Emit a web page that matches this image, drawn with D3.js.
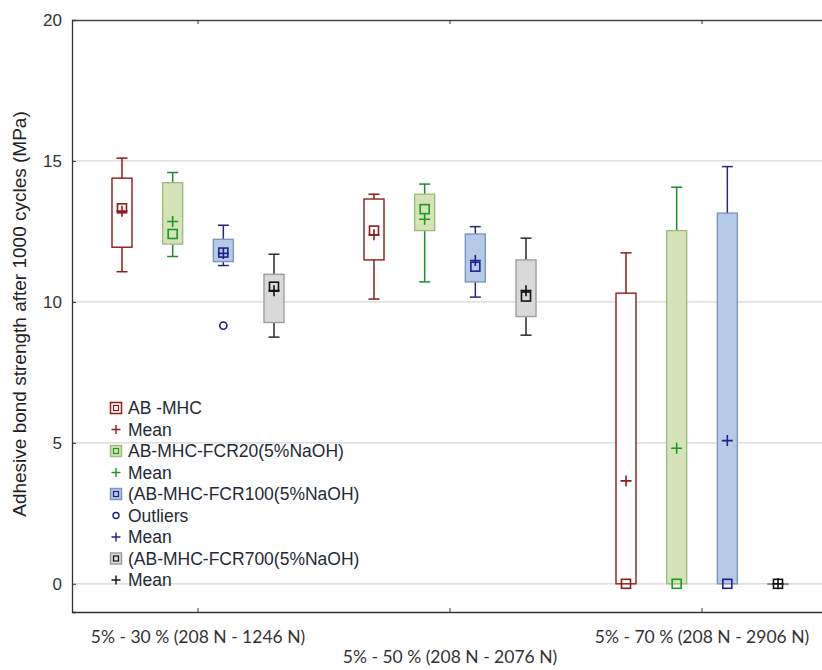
<!DOCTYPE html>
<html>
<head>
<meta charset="utf-8">
<script src="https://cdn.jsdelivr.net/npm/d3@7"></script>
<style>
  body { margin: 0; background: #fff; }
  svg { display: block; }
  .tick text { fill: #333; }
</style>
</head>
<body>
<div id="graph"></div>
<script>
// categories on the x axis
const categories = ["5% - 30 % (208 N - 1246 N)", "5% - 50 % (208 N - 2076 N)", "5% - 70 % (208 N - 2906 N)"];
const seriesNames = ["AB -MHC", "AB-MHC-FCR20(5%NaOH)", "(AB-MHC-FCR100(5%NaOH)", "(AB-MHC-FCR700(5%NaOH)"];

// box plot values, one row per series, one value per category
const whiskerLow = [[11.07, 10.10, 0], [11.61, 10.71, 0], [11.29, 10.17, 0], [8.75, 8.82, 0]];
const q1Vals     = [[11.94, 11.49, 0], [12.05, 12.53, 0], [11.43, 10.71, 0], [9.27, 9.48, 0]];
const medianVals = [[13.32, 12.53, 0], [12.41, 13.29, 0], [11.75, 11.25, 0], [10.54, 10.19, 0]];
const q3Vals     = [[14.39, 13.65, 10.31], [14.23, 13.82, 12.53], [12.22, 12.41, 13.15], [10.98, 11.49, 0]];
const whiskerHigh= [[15.10, 13.82, 11.74], [14.59, 14.18, 14.07], [12.72, 12.67, 14.80], [11.69, 12.26, 0]];
const meanVals   = [[13.22, 12.38, 3.65], [12.85, 12.93, 4.81], [11.72, 11.47, 5.08], [10.40, 10.40, 0]];
const outlierVals = [{series: 2, cat: 0, value: 9.16}];

const yTicks = [0, 5, 10, 15, 20];

// colours per series
const boxFill   = ["#ffffff", "#d5e4b8", "#b4cbe7", "#d9d9d9"];
const boxStroke = ["#8e1b1b", "#9fbd7f", "#7c96bd", "#9e9e9e"];
const lineColor = ["#8e1b1b", "#1f8a2a", "#26287a", "#2b2b2b"];
const markColor = ["#8e1b1b", "#1a9a22", "#20208c", "#111111"];

const W = 822, H = 670;
const svg = d3.select("#graph").append("svg")
  .attr("width", W).attr("height", H);

const mLeft = 72, mTop = 20, mBottom = 612, mRight = 828;

const y = d3.scaleLinear().domain([-1, 20]).range([mBottom, mTop]);
const x = d3.scaleBand().domain(categories).range([mLeft, mRight]);
const xs = d3.scalePoint().domain(seriesNames).range([-76, 76]);
const boxW = 20, capW = 11;

// grid lines
svg.append("g").selectAll("line")
  .data(yTicks.filter(d => d < 20))
  .enter().append("line")
    .attr("x1", mLeft).attr("x2", W)
    .attr("y1", d => y(d)).attr("y2", d => y(d))
    .attr("stroke", "#d6d6d6").attr("stroke-width", 1.2);

// y axis
const yAxis = svg.append("g")
  .attr("transform", `translate(${mLeft},0)`)
  .call(d3.axisLeft(y).tickValues(yTicks).tickSize(-4).tickPadding(10));
yAxis.selectAll("text").style("font-family", "'Liberation Sans', Arial, sans-serif").style("font-size", "17px");
yAxis.select(".domain").attr("stroke", "#333").attr("stroke-width", 1.3);
yAxis.selectAll(".tick line").attr("stroke", "#333");

// bottom axis
const xAxis = svg.append("g")
  .attr("transform", `translate(0,${mBottom})`)
  .call(d3.axisBottom(x).tickSize(-4).tickSizeOuter(0).tickPadding(20));
xAxis.select(".domain").attr("stroke", "#333").attr("stroke-width", 1.3);
xAxis.selectAll(".tick line").attr("stroke", "#333");
xAxis.selectAll("text")
  .style("font-family", "Lato, 'Open Sans', sans-serif")
  .style("font-size", "17.5px")
  .attr("dy", (d, i) => i === 1 ? "1.75em" : "0.6em");

// top frame
const topAxis = svg.append("g")
  .attr("transform", `translate(0,${mTop})`)
  .call(d3.axisTop(x).tickSize(-4).tickSizeOuter(0).tickFormat(""));
topAxis.select(".domain").attr("stroke", "#444").attr("stroke-width", 1.6);
topAxis.selectAll(".tick line").attr("stroke", "#333");

// y axis title
svg.append("text")
  .attr("transform", `translate(26,314) rotate(-90)`)
  .attr("text-anchor", "middle")
  .style("font-family", "'Liberation Sans', Arial, sans-serif")
  .style("font-size", "19px")
  .attr("fill", "#222")
  .text("Adhesive bond strength after 1000 cycles (MPa)");

// flatten into one record per box
const boxes = [];
seriesNames.forEach((s, si) => {
  categories.forEach((c, ci) => {
    boxes.push({
      si, ci, cx: x(c) + x.bandwidth() / 2 + xs(s),
      lo: whiskerLow[si][ci], q1: q1Vals[si][ci], med: medianVals[si][ci],
      q3: q3Vals[si][ci], hi: whiskerHigh[si][ci], mean: meanVals[si][ci]
    });
  });
});

const g = svg.append("g").selectAll("g").data(boxes).enter().append("g");

// whiskers
g.append("line")
  .attr("x1", d => d.cx).attr("x2", d => d.cx)
  .attr("y1", d => y(d.q3)).attr("y2", d => y(d.hi))
  .attr("stroke", d => lineColor[d.si]).attr("stroke-width", 1.5);
g.append("line")
  .attr("x1", d => d.cx).attr("x2", d => d.cx)
  .attr("y1", d => y(d.q1)).attr("y2", d => y(d.lo))
  .attr("stroke", d => lineColor[d.si]).attr("stroke-width", 1.5);
g.filter(d => d.hi > d.q3).append("line")
  .attr("x1", d => d.cx - capW / 2).attr("x2", d => d.cx + capW / 2)
  .attr("y1", d => y(d.hi)).attr("y2", d => y(d.hi))
  .attr("stroke", d => lineColor[d.si]).attr("stroke-width", 1.5);
g.filter(d => d.lo < d.q1).append("line")
  .attr("x1", d => d.cx - capW / 2).attr("x2", d => d.cx + capW / 2)
  .attr("y1", d => y(d.lo)).attr("y2", d => y(d.lo))
  .attr("stroke", d => lineColor[d.si]).attr("stroke-width", 1.5);

// boxes
g.append("rect")
  .attr("x", d => d.cx - boxW / 2)
  .attr("y", d => y(d.q3))
  .attr("width", boxW)
  .attr("height", d => Math.max(y(d.q1) - y(d.q3), 0.5))
  .attr("fill", d => boxFill[d.si])
  .attr("stroke", d => d.q3 === d.q1 ? "#888" : boxStroke[d.si])
  .attr("stroke-width", 1.4);

// median squares
g.append("rect")
  .attr("x", d => d.cx - 4.5).attr("y", d => y(d.med) - 4.5)
  .attr("width", 9).attr("height", 9)
  .attr("fill", "none")
  .attr("stroke", d => markColor[d.si]).attr("stroke-width", 1.6);

// mean crosses
const plus = (sel, sz) => sel.attr("d", `M${-sz},0H${sz}M0,${-sz}V${sz}`);
g.append("path")
  .attr("transform", d => `translate(${d.cx},${y(d.mean)})`)
  .call(plus, 5.5)
  .attr("fill", "none")
  .attr("stroke", d => markColor[d.si]).attr("stroke-width", 1.6);

// outliers
svg.append("g").selectAll("circle").data(outlierVals).enter().append("circle")
  .attr("cx", d => x(categories[d.cat]) + x.bandwidth() / 2 + xs(seriesNames[d.series]))
  .attr("cy", d => y(d.value))
  .attr("r", 3.6)
  .attr("fill", "none")
  .attr("stroke", d => markColor[d.series]).attr("stroke-width", 1.6);

// legend
const legendItems = [
  {type: "box", si: 0, label: seriesNames[0]},
  {type: "mean", si: 0, label: "Mean"},
  {type: "box", si: 1, label: seriesNames[1]},
  {type: "mean", si: 1, label: "Mean"},
  {type: "box", si: 2, label: seriesNames[2]},
  {type: "outlier", si: 2, label: "Outliers"},
  {type: "mean", si: 2, label: "Mean"},
  {type: "box", si: 3, label: seriesNames[3]},
  {type: "mean", si: 3, label: "Mean"}
];
const legend = svg.append("g").selectAll("g").data(legendItems).enter().append("g")
  .attr("transform", (d, i) => `translate(116,${408 + i * 21.5})`);

legend.filter(d => d.type === "box").append("rect")
  .attr("x", -5.5).attr("y", -5.5).attr("width", 11).attr("height", 11)
  .attr("fill", d => boxFill[d.si]).attr("stroke", d => boxStroke[d.si]).attr("stroke-width", 1.5);
legend.filter(d => d.type === "box").append("rect")
  .attr("x", -2.5).attr("y", -2.5).attr("width", 5).attr("height", 5)
  .attr("fill", "none").attr("stroke", d => markColor[d.si]).attr("stroke-width", 1.2);
legend.filter(d => d.type === "mean").append("path")
  .call(plus, 4.5)
  .attr("fill", "none").attr("stroke", d => markColor[d.si]).attr("stroke-width", 1.4);
legend.filter(d => d.type === "outlier").append("circle")
  .attr("r", 3).attr("fill", "none").attr("stroke", d => markColor[d.si]).attr("stroke-width", 1.4);

legend.append("text")
  .attr("x", 12).attr("dy", "0.36em")
  .style("font-family", "'Liberation Sans', Arial, sans-serif")
  .style("font-size", "17.5px")
  .attr("fill", "#1e2a36")
  .text(d => d.label);
</script>
</body>
</html>
